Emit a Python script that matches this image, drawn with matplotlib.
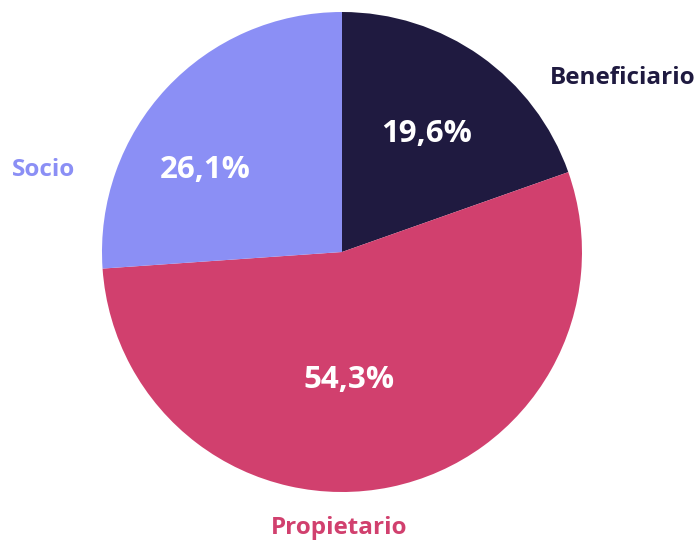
import matplotlib
matplotlib.use("Agg")
import matplotlib.pyplot as plt

categories = ["Beneficiario", "Propietario", "Socio"]
values = [19.6, 54.3, 26.1]
pct_labels = ["19,6%", "54,3%", "26,1%"]
colors = ["#1f1a40", "#d1406e", "#8b8ff5"]

plt.rcParams['font.family'] = ['Open Sans', 'DejaVu Sans']

fig = plt.figure(figsize=(7, 5.43), dpi=100)
ax = fig.add_axes([0.1457, 0.0939, 0.6857, 0.884])
ax.pie(values, colors=colors, startangle=90, counterclock=False,
       wedgeprops=dict(linewidth=0))
ax.set_xlim(-1, 1)
ax.set_ylim(-1, 1)
ax.set_aspect('auto')
ax.axis('off')

# label positions (data coords, radius = 1)
name_pos = [(1.17, 0.725), (-0.01, -1.15), (-1.245, 0.34)]
pct_pos = [(0.354, 0.49), (0.03, -0.535), (-0.571, 0.34)]
for name, pct, col, npos, ppos in zip(categories, pct_labels, colors, name_pos, pct_pos):
    ax.text(*npos, name, color=col, fontsize=17.5, fontweight='bold',
            ha='center', va='center')
    ax.text(*ppos, pct, color='white', fontsize=22.5, fontweight='bold',
            ha='center', va='center')

fig.savefig("out.png", dpi=100)
